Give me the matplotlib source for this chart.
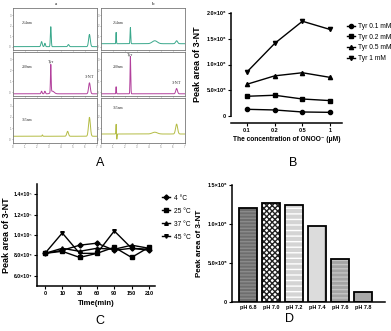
import numpy as np
import matplotlib
matplotlib.use("Agg")
import matplotlib.pyplot as plt

plt.rcParams['font.family'] = ['Liberation Sans', 'DejaVu Sans']

W, H = 391, 331

# ---- panel A: chromatogram peaks (position, height, width)
a_254_pos = [0.34, 0.38, 0.45, 0.66, 0.91]
a_254_h = [0.12, 0.08, 0.48, 0.05, 0.29]
a_254_w = [0.008, 0.006, 0.005, 0.008, 0.010]
a_280_pos = [0.34, 0.38, 0.45, 0.47, 0.91]
a_280_h = [0.06, 0.06, 0.64, 0.06, 0.25]
a_280_w = [0.006, 0.006, 0.004, 0.02, 0.010]
a_365_pos = [0.35, 0.65, 0.91]
a_365_h = [0.03, 0.11, 0.42]
a_365_w = [0.004, 0.010, 0.011]
b_254_pos = [0.18, 0.35, 0.64, 0.90]
b_254_h = [0.27, 0.39, 0.07, 0.07]
b_254_w = [0.003, 0.004, 0.03, 0.012]
b_280_pos = [0.18, 0.35, 0.90]
b_280_h = [0.16, 0.86, 0.12]
b_280_w = [0.003, 0.004, 0.010]
b_365_pos = [0.18, 0.188, 0.64, 0.90]
b_365_h = [0.22, -0.12, 0.04, 0.22]
b_365_w = [0.003, 0.003, 0.03, 0.012]

# ---- panel B
onoo = ['0.1', '0.2', '0.5', '1']
tyr01 = [1.3e5, 1.17e5, 0.78e5, 0.71e5]
tyr02 = [3.83e5, 4.03e5, 3.3e5, 2.99e5]
tyr05 = [6.17e5, 7.8e5, 8.4e5, 7.5e5]
tyr1 = [8.57e5, 1.41e6, 1.84e6, 1.68e6]

# ---- panel C
times = ['0', '10', '30', '60', '90', '150', '210']
t4 = [8.2e4, 8.5e4, 9.0e4, 9.2e4, 8.5e4, 8.7e4, 8.5e4]
t25 = [8.2e4, 8.4e4, 7.8e4, 8.2e4, 8.8e4, 7.8e4, 8.8e4]
t37 = [8.2e4, 8.7e4, 8.4e4, 8.7e4, 8.6e4, 9.0e4, 8.7e4]
t45 = [8.2e4, 1.02e5, 8.2e4, 8.2e4, 1.04e5, 8.7e4, 8.6e4]

# ---- panel D
ph = ['pH 6.8', 'pH 7.0', 'pH 7.2', 'pH 7.4', 'pH 7.6', 'pH 7.8']
ph_area = [1.21e6, 1.274e6, 1.244e6, 9.7e5, 5.47e5, 1.24e5]

fig = plt.figure(figsize=(W / 100, H / 100), dpi=100)


def px_axes(x0, y0, x1, y1):
    return fig.add_axes([x0 / W, 1 - y1 / H, (x1 - x0) / W, (y1 - y0) / H])


def chrom(ax, base, pos, hts, wid, color):
    x = np.linspace(0, 1, 600)
    y = np.full_like(x, base)
    for p, h, w in zip(pos, hts, wid):
        y = y + h * np.exp(-0.5 * ((x - p) / w) ** 2)
    ax.plot(x, y, color=color, lw=0.7)
    ax.set_xlim(0, 1)
    ax.set_ylim(0, 1)
    for s in ax.spines.values():
        s.set_color('#777777')
        s.set_linewidth(0.6)
    ax.set_yticks([0.08, 0.33, 0.58, 0.83])
    ax.set_yticklabels(['0', '1', '2', '3'])
    ax.set_xticks(np.linspace(0, 1, 8))
    ax.set_xticklabels([])
    ax.tick_params(length=1, width=0.4, labelsize=2, color='#777777',
                   labelcolor='#777777', pad=0.5)


teal, pink, olive = '#3aa88c', '#b2409c', '#b4bc44'
rows = [(8, 50), (52, 96), (98, 143)]
cols = [(13, 97), (101, 185)]
panels = [
    [(0.08, a_254_pos, a_254_h, a_254_w, teal, '254nm', (0.1, 0.62)),
     (0.05, a_280_pos, a_280_h, a_280_w, pink, '280nm', (0.1, 0.63)),
     (0.15, a_365_pos, a_365_h, a_365_w, olive, '365nm', (0.1, 0.5))],
    [(0.15, b_254_pos, b_254_h, b_254_w, teal, '254nm', (0.14, 0.62)),
     (0.05, b_280_pos, b_280_h, b_280_w, pink, '280nm', (0.14, 0.63)),
     (0.2, b_365_pos, b_365_h, b_365_w, olive, '365nm', (0.14, 0.75))],
]
for ci, (x0, x1) in enumerate(cols):
    for ri, (y0, y1) in enumerate(rows):
        ax = px_axes(x0, y0, x1, y1)
        base, pos, hts, wid, col, lab, lxy = panels[ci][ri]
        chrom(ax, base, pos, hts, wid, col)
        ax.text(lxy[0], lxy[1], lab, transform=ax.transAxes, fontsize=2.8,
                family='Liberation Serif', color='#333333')
        if ri == 1:
            if ci == 0:
                ax.text(0.45, 0.75, 'Tyr', transform=ax.transAxes, fontsize=3.2,
                        family='Liberation Serif', ha='center', color='#333333')
                ax.text(0.91, 0.4, '3-NT', transform=ax.transAxes, fontsize=3.2,
                        family='Liberation Serif', ha='center', color='#333333')
            else:
                ax.text(0.35, 0.9, 'Tyr', transform=ax.transAxes, fontsize=3.2,
                        family='Liberation Serif', ha='center', color='#333333')
                ax.text(0.9, 0.28, '3-NT', transform=ax.transAxes, fontsize=3.2,
                        family='Liberation Serif', ha='center', color='#333333')
        if ri == 2:
            ax.set_xticklabels([str(i) for i in range(0, 8)])
fig.text(56 / W, 1 - 4 / H, 'a', fontsize=3.5, family='Liberation Serif', ha='center', va='center')
fig.text(153 / W, 1 - 4 / H, 'b', fontsize=3.5, family='Liberation Serif', ha='center', va='center')

# panel letters
for lx, ly, lt in [(100, 163, 'A'), (293, 163, 'B'), (100, 321, 'C'), (289, 319, 'D')]:
    fig.text(lx / W, 1 - ly / H, lt, fontsize=9, ha='center', va='center')


def prism(ax):
    for s in ['top', 'right']:
        ax.spines[s].set_visible(False)
    for s in ['left', 'bottom']:
        ax.spines[s].set_linewidth(1.1)
    ax.tick_params(length=2, width=0.8, labelsize=4, pad=1.5)
    for t in ax.get_xticklabels() + ax.get_yticklabels():
        t.set_fontweight('bold')


narrow = {'family': ['Liberation Sans Narrow', 'Liberation Sans'], 'size': 4.8}

# ---- B
axB = px_axes(231, 13, 342, 116)
xb = np.arange(len(onoo))
for ys, mk, lab in [(tyr01, 'o', 'Tyr 0.1 mM'), (tyr02, 's', 'Tyr 0.2 mM'),
                    (tyr05, '^', 'Tyr 0.5 mM'), (tyr1, 'v', 'Tyr 1 mM')]:
    axB.plot(xb, ys, color='black', lw=1, marker=mk, ms=3, label=lab)
axB.set_xlim(-0.58, 3.43)
axB.set_ylim(0, 2e6)
axB.set_xticks(xb)
axB.set_xticklabels(onoo)
axB.set_yticks([0, 5e5, 1e6, 1.5e6, 2e6])
axB.set_yticklabels(['0', '5.0×10⁵', '1.0×10⁶', '1.5×10⁶', '2.0×10⁶'])
axB.spines['bottom'].set_position(('outward', 5))
prism(axB)
axB.set_xlabel('The concentration of ONOO⁻ (μM)', fontsize=4.8, fontweight='bold', labelpad=2)
axB.set_ylabel('Peak area of 3-NT', fontsize=6.5, fontweight='bold', labelpad=3)
axB.legend(loc='upper left', bbox_to_anchor=(1.02, 0.93), frameon=False, prop=narrow,
           handlelength=1.2, handletextpad=0.5, labelspacing=0.55, borderaxespad=0)

# ---- C
axC = px_axes(37, 184, 155, 286)
xc = np.arange(len(times))
for ys, mk, lab in [(t4, 'D', '4 °C'), (t25, 's', '25 °C'),
                    (t37, '^', '37 °C'), (t45, 'v', '45 °C')]:
    axC.plot(xc, ys, color='black', lw=1, marker=mk, ms=2.6, label=lab)
axC.set_xlim(-0.46, 6.35)
axC.set_ylim(5e4, 1.5e5)
axC.set_xticks(xc)
axC.set_xticklabels(times)
axC.set_yticks([6e4, 8e4, 1e5, 1.2e5, 1.4e5])
axC.set_yticklabels(['6.0×10⁴', '8.0×10⁴', '1.0×10⁵', '1.2×10⁵', '1.4×10⁵'])
prism(axC)
axC.tick_params(axis='y', labelsize=3.7)
axC.set_xlabel('Time(min)', fontsize=5.5, fontweight='bold', labelpad=3)
axC.set_ylabel('Peak area of 3-NT', fontsize=6.5, fontweight='bold', labelpad=1.5)
axC.legend(loc='upper left', bbox_to_anchor=(1.04, 0.92), frameon=False, prop=narrow,
           handlelength=1.2, handletextpad=0.6, labelspacing=0.9, borderaxespad=0)

# ---- D
axD = px_axes(232, 185, 385, 302)
xd = np.arange(len(ph))
faces = ['#6e6e6e', 'white', '#d4d4d4', '#dcdcdc', '#a4a4a4', '#a8a8a8']
hatches = ['-----', 'xxxxxx', '---', '|', '----', '']
hcolors = ['#8a8a8a', '#222222', 'white', '#b0b0b0', '#c4c4c4', '#a8a8a8']
for i in range(len(ph)):
    axD.bar(xd[i], ph_area[i], width=0.78, color=faces[i], hatch=hatches[i],
            edgecolor=hcolors[i], linewidth=0)
    axD.bar(xd[i], ph_area[i], width=0.78, fill=False, edgecolor='black', linewidth=1.3)
axD.set_xlim(-0.7, 5.95)
axD.set_ylim(0, 1.5e6)
axD.set_xticks(xd)
axD.set_xticklabels(ph)
axD.set_yticks([0, 5e5, 1e6, 1.5e6])
axD.set_yticklabels(['0', '5.0×10⁵', '1.0×10⁶', '1.5×10⁶'])
prism(axD)
axD.tick_params(axis='x', length=0, pad=2)
axD.set_ylabel('Peak area of 3-NT', fontsize=5.8, fontweight='bold', labelpad=3)

fig.savefig('out.png', dpi=100)
